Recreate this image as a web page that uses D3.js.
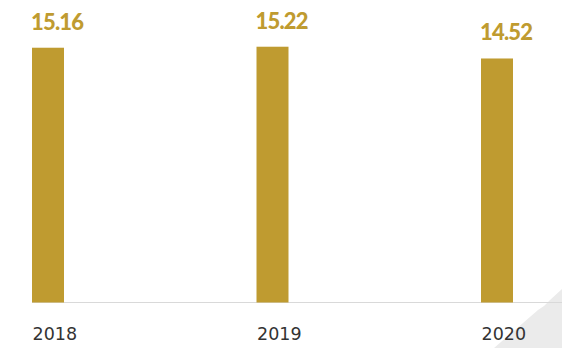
<!DOCTYPE html>
<html>
<head>
<meta charset="utf-8">
<script src="https://cdn.jsdelivr.net/npm/d3@7/dist/d3.min.js"></script>
<style>
  html, body { margin: 0; padding: 0; background: #ffffff; }
  svg { display: block; }
</style>
</head>
<body>
<script>
// Annual values shown as bars, one per year
const years = ["2018", "2019", "2020"];
const values = [15.16, 15.22, 14.52];

const width = 562, height = 348;
const baseline = 302.5;

const svg = d3.select("body").append("svg")
  .attr("width", width)
  .attr("height", height);

// Decorative grey corner shape
svg.append("path")
  .attr("d", "M562,289 L550,300 Q545,306 538,310 L494,348 L562,348 Z")
  .attr("fill", "#ebebeb");

const x = d3.scalePoint()
  .domain(years)
  .range([48, 497]);

const y = d3.scaleLinear()
  .domain([0, 18])
  .range([baseline, 0]);

const barW = 32;

// Baseline rule
svg.append("line")
  .attr("x1", x(years[0]) - barW / 2)
  .attr("x2", width)
  .attr("y1", baseline)
  .attr("y2", baseline)
  .attr("stroke", "#d9d9d9")
  .attr("stroke-width", 1);

const data = years.map((yr, i) => ({ year: yr, value: values[i] }));

svg.selectAll("rect.bar")
  .data(data)
  .join("rect")
  .attr("class", "bar")
  .attr("x", d => x(d.year) - barW / 2)
  .attr("y", d => y(d.value))
  .attr("width", barW)
  .attr("height", d => baseline - y(d.value))
  .attr("fill", "#bf9b30");

// Value labels above bars
svg.selectAll("text.val")
  .data(data)
  .join("text")
  .attr("class", "val")
  .attr("x", d => x(d.year) - barW / 2 - 1)
  .attr("y", d => y(d.value) - 18)
  .attr("font-family", "Lato, sans-serif")
  .attr("font-weight", 900)
  .attr("font-size", 22)
  .attr("letter-spacing", -0.8)
  .attr("fill", "#bf9b30")
  .text(d => d.value.toFixed(2));

// Year labels under the baseline
const axis = d3.axisBottom(x).tickSize(0).tickPadding(0);
const g = svg.append("g")
  .attr("transform", `translate(0,${baseline})`)
  .call(axis);
g.select(".domain").remove();
g.selectAll(".tick text")
  .attr("text-anchor", "start")
  .attr("dx", -barW / 2)
  .attr("dy", 0)
  .attr("y", 37)
  .attr("font-family", "'DejaVu Sans', sans-serif")
  .attr("font-size", 17.5)
  .attr("fill", "#333333");
</script>
</body>
</html>
